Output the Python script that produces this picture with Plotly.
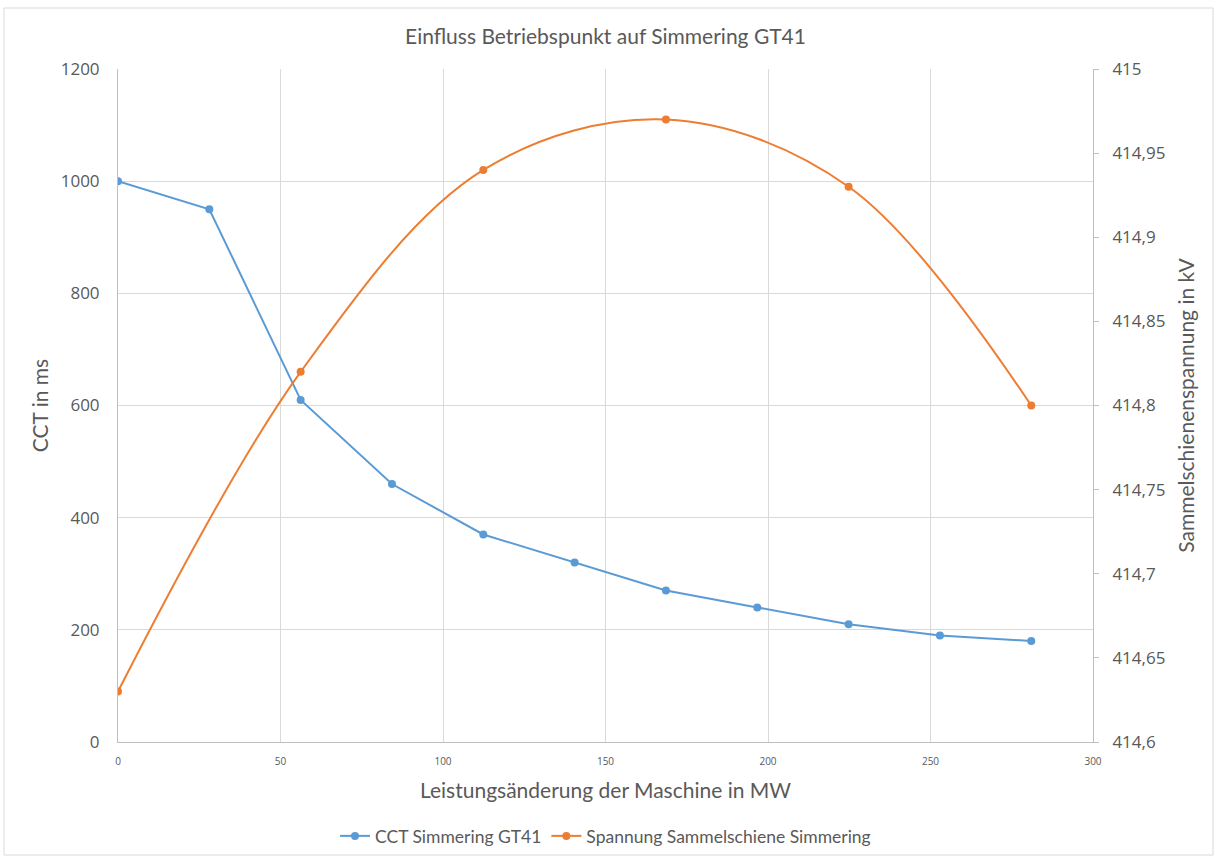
import plotly.graph_objects as go

# Leistungsänderung (MW)
power_mw = [0, 28.1, 56.2, 84.3, 112.4, 140.5, 168.6, 196.7, 224.8, 252.9, 281.0]
cct_ms = [1000, 950, 610, 460, 370, 320, 270, 240, 210, 190, 180]

voltage_mw = [0, 56.2, 112.4, 168.6, 224.8, 281.0]
voltage_kv = [414.63, 414.82, 414.94, 414.97, 414.93, 414.80]

left_ticks = [0, 200, 400, 600, 800, 1000, 1200]
right_ticks = [414.6, 414.65, 414.7, 414.75, 414.8, 414.85, 414.9, 414.95, 415.0]
right_tick_text = ["414,6", "414,65", "414,7", "414,75", "414,8", "414,85", "414,9", "414,95", "415"]
x_ticks = [0, 50, 100, 150, 200, 250, 300]

BLUE = "#5B9BD5"
ORANGE = "#ED7D31"
GRID = "#D9D9D9"
TEXT = "#595959"
FONT = "Lato, Open Sans, sans-serif"
TICKFONT = "Open Sans, sans-serif"

fig = go.Figure()
fig.add_trace(go.Scatter(
    x=power_mw, y=cct_ms, name="CCT Simmering GT41",
    mode="lines+markers",
    line=dict(color=BLUE, width=2),
    marker=dict(color=BLUE, size=8),
    yaxis="y",
))
fig.add_trace(go.Scatter(
    x=voltage_mw, y=voltage_kv, name="Spannung Sammelschiene Simmering",
    mode="lines+markers",
    line=dict(color=ORANGE, width=2, shape="spline", smoothing=1.0),
    marker=dict(color=ORANGE, size=8),
    yaxis="y2",
))

W, H = 1214, 859
ml, mr, mt, mb = 118, 121, 69, 117
pw, ph = W - ml - mr, H - mt - mb

def px_x(p):
    return (p - ml) / pw

def px_y(p):
    return (H - mb - p) / ph

fig.update_layout(
    width=W, height=H,
    margin=dict(l=ml, r=mr, t=mt, b=mb, autoexpand=False),
    paper_bgcolor="white", plot_bgcolor="white",
    font=dict(family=FONT, color=TEXT),
    title=dict(text="Einfluss Betriebspunkt auf Simmering GT41",
               x=0.5, xref="paper", xanchor="center",
               y=1 - 37 / H, yanchor="middle",
               font=dict(size=21, color=TEXT, family=FONT)),
    xaxis=dict(
        range=[0, 300], tickvals=x_ticks, automargin=False,
        showgrid=True, gridcolor=GRID, gridwidth=1,
        showline=True, linecolor="#BFBFBF", linewidth=1,
        zeroline=False, ticks="",
        tickfont=dict(size=10, color=TEXT, family=TICKFONT),
        ticklabelstandoff=10,
        title=dict(text="Leistungsänderung der Maschine in MW",
                   font=dict(size=21, color=TEXT, family=FONT), standoff=16),
    ),
    yaxis=dict(
        range=[0, 1200], tickvals=left_ticks, automargin=False,
        showgrid=True, gridcolor=GRID, gridwidth=1,
        showline=True, linecolor="#BFBFBF", linewidth=1,
        zeroline=False, ticks="",
        tickfont=dict(size=17, color=TEXT, family=TICKFONT),
        ticklabelstandoff=14,
        title=dict(text="CCT in ms", font=dict(size=21, color=TEXT, family=FONT), standoff=6),
    ),
    yaxis2=dict(
        range=[414.6, 415.0], tickvals=right_ticks, ticktext=right_tick_text,
        overlaying="y", side="right", automargin=False,
        showgrid=False, zeroline=False,
        showline=True, linecolor="#BFBFBF", linewidth=1,
        ticks="outside", ticklen=5, tickcolor="#BFBFBF",
        tickfont=dict(size=17, color=TEXT, family=TICKFONT),
        ticklabelstandoff=10,
        title=dict(text="Sammelschienenspannung in kV", font=dict(size=21, color=TEXT, family=FONT), standoff=14),
    ),
    legend=dict(
        orientation="h", x=0.5, xanchor="center",
        y=px_y(836), yanchor="middle",
        font=dict(size=17.5, color=TEXT, family=FONT),
        itemwidth=30, bgcolor="rgba(0,0,0,0)",
    ),
    shapes=[dict(
        type="rect", xref="paper", yref="paper",
        x0=px_x(4), x1=px_x(1213), y0=px_y(855), y1=px_y(8),
        line=dict(color="#D9D9D9", width=1), fillcolor="rgba(0,0,0,0)",
        layer="below",
    )],
)

fig.write_html("out.html")
